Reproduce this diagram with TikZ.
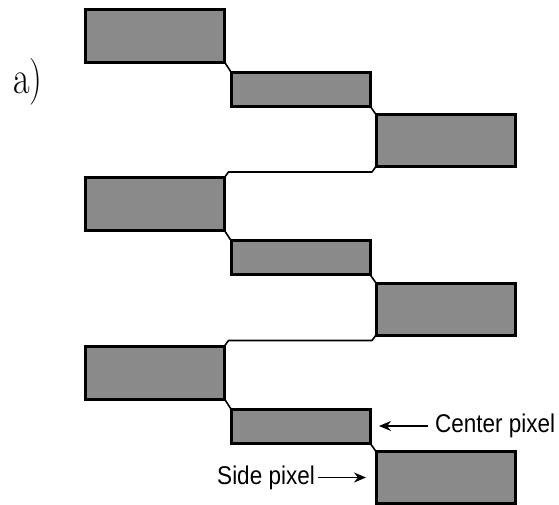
\documentclass[tikz,border=0pt]{standalone}
\usepackage{graphicx}
\usepackage{fontspec}
\newfontfamily\labelfont{Liberation Sans}
\usetikzlibrary{arrows.meta,positioning,calc}
\definecolor{pixgray}{RGB}{138,138,138}

\begin{document}
\begin{tikzpicture}[x=1pt,y=-1pt,
    pixel/.style={draw, line width=3pt, fill=pixgray, inner sep=0pt, outer sep=0pt, minimum width=139pt},
    wire/.style={line width=1.6pt, line join=round},
    lbl/.style={font=\labelfont\fontsize{22.5}{26}\selectfont, inner sep=0pt},
    lblarrow/.style={line width=1.7pt, -{Stealth[length=12pt,width=10pt]}}]
    \useasboundingbox (0,0) rectangle (559,504);

    % Panel label
    \node (panel) at (28,82) {\fontsize{36}{42}\selectfont\scalebox{1}[1.3]{a)}};

    % Pixel rows
    \foreach \r in {1,2,3} {
        \node[pixel, minimum height=53pt] (L\r) at (155,{35.5+168.5*(\r-1)}) {};
        \node[pixel, minimum height=34pt] (M\r) at (300.5,{89+168.5*(\r-1)}) {};
        \node[pixel, minimum height=52pt] (R\r) at (445.5,{140.5+168.5*(\r-1)}) {};
        \draw[wire] (L\r.south east) -- (M\r.north west);
        \draw[wire] (M\r.south east) -- (R\r.north west);
    }

    % Links between rows
    \foreach \r/\n in {1/2,2/3} {
        \draw[wire] (R\r.south west) -- ++(-4,5.5) -- ($(L\n.north east)+(4,-5.5)$) -- (L\n.north east);
    }

    % Labels
    \node[lbl, anchor=west] (centerlbl) at ($(M3.east)+(65,0)$) {\scalebox{1}[1.14]{Center pixel}};
    \node[lbl, left=61pt of R3] (sidelbl) {\scalebox{1}[1.14]{Side pixel}};
    \draw[lblarrow, shorten <=7pt, shorten >=9pt] (centerlbl.west) -- (M3.east);
    \draw[lblarrow, shorten <=3pt, shorten >=10pt] (sidelbl.east) -- (R3.west);
\end{tikzpicture}
\end{document}
